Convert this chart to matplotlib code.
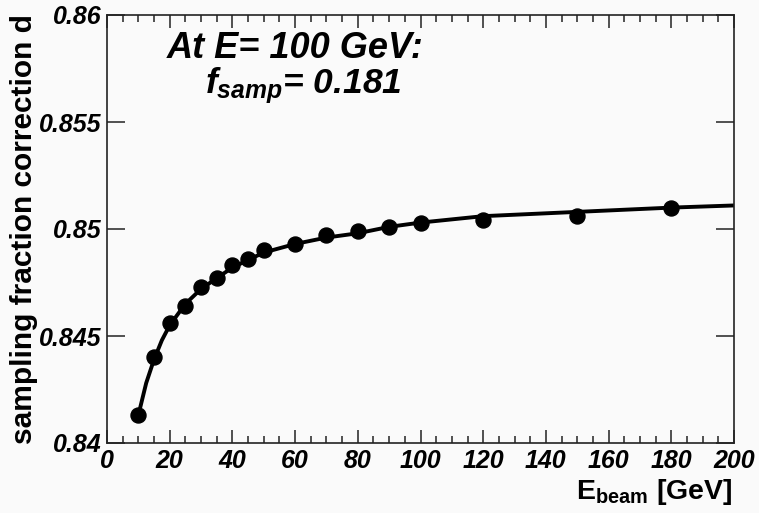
import matplotlib
matplotlib.use("Agg")
import matplotlib.pyplot as plt

# measured points: beam energy [GeV] vs sampling fraction correction
e_beam = [10, 15, 20, 25, 30, 35, 40, 45, 50, 60, 70, 80, 90, 100, 120, 150, 180]
corr_d = [0.8413, 0.8440, 0.8456, 0.8464, 0.8473, 0.8477, 0.8483, 0.8486, 0.8490,
          0.8493, 0.8497, 0.8499, 0.8501, 0.8503, 0.8504, 0.8506, 0.8510]

# fit curve
fit_e = [10, 12.5, 15, 17.5, 20, 25, 30, 35, 40, 50, 60, 70, 80, 90, 100, 120, 150, 180, 200]
fit_d = [0.8413, 0.8428, 0.8439, 0.8448, 0.8455, 0.8465, 0.8472, 0.8477, 0.8482, 0.8489,
         0.8493, 0.8496, 0.8498, 0.8501, 0.8503, 0.8506, 0.8508, 0.8510, 0.8511]

x_ticks = [0, 20, 40, 60, 80, 100, 120, 140, 160, 180, 200]
y_ticks = [0.84, 0.845, 0.85, 0.855, 0.86]
y_tick_labels = ["0.84", "0.845", "0.85", "0.855", "0.86"]

plt.rcParams['font.family'] = ['Liberation Sans', 'DejaVu Sans']
plt.rcParams['mathtext.fontset'] = 'custom'
plt.rcParams['mathtext.rm'] = 'Liberation Sans:bold'
plt.rcParams['mathtext.it'] = 'Liberation Sans:bold:italic'
plt.rcParams['mathtext.bf'] = 'Liberation Sans:bold'

W, H = 759, 513
bg = '#fafafa'
fig = plt.figure(figsize=(W / 100, H / 100), dpi=100, facecolor=bg)
ax = fig.add_axes([107 / W, 1 - 443 / H, (734 - 107) / W, (443 - 15) / H])
ax.set_facecolor(bg)

ax.plot(fit_e, fit_d, color='black', lw=2.8, solid_capstyle='round', zorder=2)
ax.plot(e_beam, corr_d, 'o', color='black', ms=10.8, zorder=3)

ax.set_xlim(0, 200)
ax.set_ylim(0.84, 0.86)
ax.set_xticks(x_ticks)
ax.set_xticks(range(0, 201, 5), minor=True)
ax.set_yticks(y_ticks)
ax.set_yticklabels(y_tick_labels)

for s in ax.spines.values():
    s.set_linewidth(1.2)
    s.set_color('#222222')

ax.tick_params(which='both', direction='in', top=True, right=True, color='#222222', width=1.1)
ax.tick_params(axis='x', which='major', length=9.5, pad=4)
ax.tick_params(axis='x', which='minor', length=5)
ax.tick_params(axis='y', which='major', length=13, pad=4)
for lab in ax.get_xticklabels() + ax.get_yticklabels():
    lab.set_fontsize(18)
    lab.set_fontweight('bold')
    lab.set_fontstyle('italic')

fig.text(24 / W, 0.5 * (1 - 15 / H + 1 - 443 / H), 'sampling fraction correction d',
         rotation=90, ha='center', va='center', fontsize=21.5, fontweight='bold')
fig.text(732 / W, 1 - 499 / H, r'E$_{\mathrm{beam}}$ [GeV]', ha='right', va='baseline',
         fontsize=20.5, fontweight='bold')

fig.text(167 / W, 1 - 58 / H, 'At E= 100 GeV:', ha='left', va='baseline',
         fontsize=26, fontweight='bold', fontstyle='italic')
fig.text(205 / W, 1 - 93 / H, r'$f_{samp}$= 0.181', ha='left', va='baseline',
         fontsize=25.5, fontweight='bold', fontstyle='italic')

fig.savefig('out.png', dpi=100, facecolor=bg)
